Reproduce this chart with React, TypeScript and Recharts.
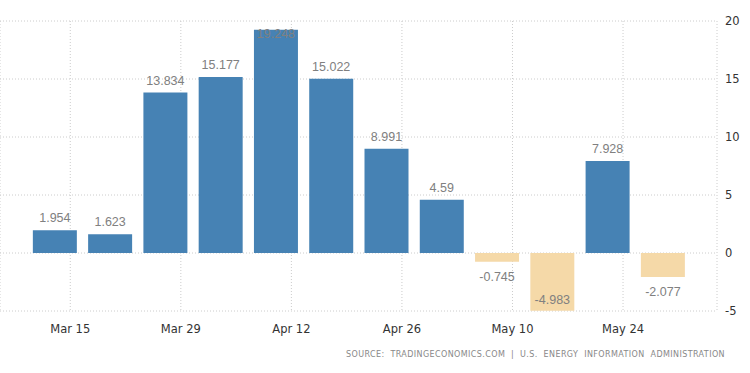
import { BarChart, Bar, XAxis, YAxis, CartesianGrid, Cell, LabelList } from 'recharts';

// semanas (días contados desde el 1 de marzo)
const weekLabels = ['Mar 13', 'Mar 20', 'Mar 27', 'Apr 3', 'Apr 10', 'Apr 17', 'Apr 24', 'May 1', 'May 8', 'May 15', 'May 22', 'May 29'];
const weekDays = [12, 19, 26, 33, 40, 47, 54, 61, 68, 75, 82, 89];
const values = [1.954, 1.623, 13.834, 15.177, 19.248, 15.022, 8.991, 4.59, -0.745, -4.983, 7.928, -2.077];

const xTickDays = [14, 28, 42, 56, 70, 84];
const xTickLabels = ['Mar 15', 'Mar 29', 'Apr 12', 'Apr 26', 'May 10', 'May 24'];
const yTicks = [-5, 0, 5, 10, 15, 20];

const data = weekDays.map((day, i) => ({ day, label: weekLabels[i], value: values[i] }));

const BLUE = '#4682B4';
const TAN = '#F5D9A8';

const ValueLabel = (props: any) => {
  const { x, y, width, height, value } = props;
  const top = Math.min(y, y + height);
  const bottom = Math.max(y, y + height);
  let baseline;
  if (value >= 0) {
    baseline = top - 8;
    if (baseline < 25) baseline = top + 8; // no cabe arriba
  } else {
    baseline = bottom + 19;
    if (baseline > 311) baseline = bottom - 6.5; // no cabe abajo
  }
  return (
    <text
      x={x + width / 2}
      y={baseline}
      textAnchor="middle"
      fontFamily="'Liberation Sans', Arial, sans-serif"
      fontSize={12.5}
      fill="#808080"
    >
      {value}
    </text>
  );
};

export default function App() {
  return (
    <div style={{ position: 'absolute', left: 0, top: 0, width: 750, height: 373, background: '#fff' }}>
      <BarChart
        width={750}
        height={373}
        data={data}
        margin={{ top: 21, right: 0, bottom: 32, left: 0 }}
      >
        <CartesianGrid stroke="#cccccc" strokeDasharray="1 2" />
        <XAxis
          dataKey="day"
          type="number"
          domain={[5.1, 95.9]}
          ticks={xTickDays}
          tickFormatter={(d: number) => xTickLabels[xTickDays.indexOf(d)]}
          axisLine={false}
          tickLine={false}
          tickMargin={8}
          height={30}
          interval={0}
          tick={{ fill: '#333', fontSize: 11.5, fontFamily: "'DejaVu Sans', Verdana, sans-serif" }}
        />
        <YAxis
          orientation="right"
          domain={[-5, 20]}
          ticks={yTicks}
          axisLine={false}
          tickLine={false}
          width={33}
          tickMargin={2}
          tick={{ fill: '#333', fontSize: 11.5, fontFamily: "'DejaVu Sans', Verdana, sans-serif" }}
        />
        <Bar dataKey="value" barSize={44} isAnimationActive={false}>
          {data.map((d, i) => (
            <Cell key={i} fill={d.value >= 0 ? BLUE : TAN} />
          ))}
          <LabelList dataKey="value" content={ValueLabel} />
        </Bar>
      </BarChart>
      <div
        style={{
          position: 'absolute',
          right: 25,
          top: 350,
          fontFamily: "'DejaVu Sans', Verdana, sans-serif",
          fontSize: 8,
          letterSpacing: 0.4,
          color: '#888',
          whiteSpace: 'pre',
        }}
      >
        SOURCE:  TRADINGECONOMICS.COM  |  U.S.  ENERGY  INFORMATION  ADMINISTRATION
      </div>
    </div>
  );
}
